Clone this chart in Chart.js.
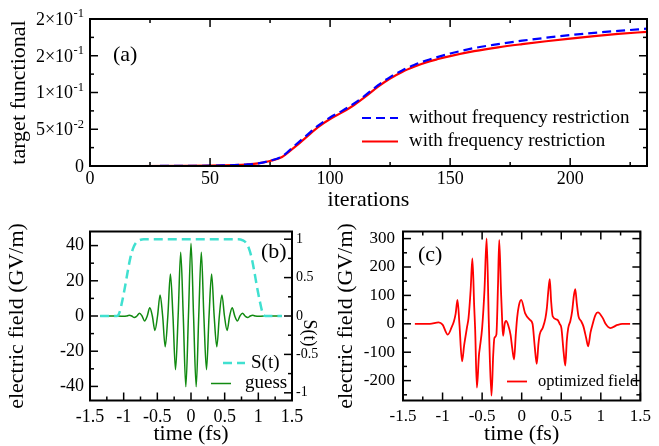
<!DOCTYPE html>
<html>
<head>
<meta charset="utf-8">
<script src="https://cdn.jsdelivr.net/npm/chart.js@4.4.0/dist/chart.umd.min.js"></script>
<style>
  html, body { margin: 0; padding: 0; background: #fff; }
  #page { position: relative; width: 659px; height: 446px; background: #fff; }
  .panel { position: absolute; }
  #boxA { left: 0; top: 0; width: 659px; height: 215px; }
  #boxB { left: 0; top: 215px; width: 330px; height: 231px; }
  #boxC { left: 330px; top: 215px; width: 329px; height: 231px; }
</style>
</head>
<body>
<div id="page">
  <div class="panel" id="boxA"><canvas id="chartA"></canvas></div>
  <div class="panel" id="boxB"><canvas id="chartB"></canvas></div>
  <div class="panel" id="boxC"><canvas id="chartC"></canvas></div>
</div>
<script>
// (a) target functional vs. iterations
const iterations = [0, 20, 40, 50, 55, 60, 65, 70, 75, 80, 85, 90, 95, 100, 105, 110, 115, 120, 125, 130, 135, 140, 145, 150, 160, 170, 180, 190, 200, 210, 220, 232];
const withoutRestriction = [0, 0, 0.0002, 0.0005, 0.0008, 0.0012, 0.002, 0.0036, 0.0072, 0.013, 0.027, 0.041, 0.055, 0.066, 0.075, 0.085, 0.097, 0.110, 0.121, 0.130, 0.1375, 0.1435, 0.1485, 0.153, 0.1605, 0.1658, 0.1705, 0.1745, 0.1781, 0.1812, 0.1838, 0.1868];
const withRestriction = [0, 0, 0.0002, 0.0005, 0.0008, 0.0012, 0.002, 0.0035, 0.0068, 0.0123, 0.025, 0.039, 0.053, 0.064, 0.073, 0.083, 0.095, 0.108, 0.119, 0.128, 0.135, 0.141, 0.1455, 0.1495, 0.1562, 0.1615, 0.1658, 0.1697, 0.1734, 0.1767, 0.1797, 0.1826];
const iterTicks = [0, 50, 100, 150, 200];
const iterMinor = [25, 75, 125, 175, 225];
const targetTicks = [0, 0.05, 0.1, 0.15, 0.2];
const targetTickBase = ['0', '5×10', '1×10', '2×10', '2×10'];
const targetTickExp = ['', '-2', '-1', '-1', '-1'];
const targetMinor = [0.025, 0.075, 0.125, 0.175];

// (b) guess field and shape function S(t)
const guessTime = [-1.35, -1.08, -0.995, -0.957, -0.918, -0.880, -0.842, -0.803, -0.765, -0.727, -0.689, -0.650, -0.612, -0.574, -0.536, -0.497, -0.459, -0.421, -0.383, -0.344, -0.306, -0.268, -0.230, -0.191, -0.153, -0.115, -0.077, -0.038,
  0, 0.038, 0.077, 0.115, 0.153, 0.191, 0.230, 0.268, 0.306, 0.344, 0.383, 0.421, 0.459, 0.497, 0.536, 0.574, 0.612, 0.650, 0.689, 0.727, 0.765, 0.803, 0.842, 0.880, 0.918, 0.957, 0.995, 1.08, 1.35];
const guessField = [0, 0, -0.2, 0, 0.4, 0, -0.9, 0, 1.5, 0, -2.8, 0, 4.7, 0, -8.2, 0, 12.0, 0, -17.5, 0, 23.8, 0, -30.5, 0, 36.2, 0, -40.2, 0,
  41.3, 0, -40.2, 0, 36.2, 0, -30.5, 0, 23.8, 0, -17.5, 0, 12.0, 0, -8.2, 0, 4.7, 0, -2.8, 0, 1.5, 0, -0.9, 0, 0.4, 0, -0.2, 0, 0];
const shapeTime = [-1.35, -1.10, -1.06, -1.02, -0.98, -0.94, -0.90, -0.86, -0.82, -0.77, -0.70, 0, 0.70, 0.77, 0.82, 0.86, 0.90, 0.94, 0.98, 1.02, 1.06, 1.10, 1.35];
const shapeValue = [0, 0, 0.05, 0.2, 0.38, 0.58, 0.76, 0.88, 0.95, 0.985, 1, 1, 1, 0.985, 0.95, 0.88, 0.76, 0.58, 0.38, 0.2, 0.05, 0, 0];

// (c) optimized field
const optTime = [-1.35, -1.16, -1.05, -1.00, -0.934, -0.885, -0.857, -0.835, -0.811, -0.787, -0.754, -0.727, -0.713, -0.690, -0.672, -0.645, -0.623, -0.600, -0.588, -0.566, -0.540, -0.529, -0.500, -0.470, -0.443, -0.415, -0.382, -0.360, -0.345, -0.320, -0.300, -0.284, -0.262, -0.245, -0.235, -0.215, -0.198, -0.170, -0.140, -0.120, -0.096, -0.075, -0.058, -0.035, -0.006,
  0.044, 0.104, 0.137, 0.165, 0.190, 0.212, 0.227, 0.268, 0.300, 0.318, 0.338, 0.355, 0.372, 0.392, 0.453, 0.480, 0.502, 0.530, 0.551, 0.570, 0.588, 0.615, 0.637, 0.660, 0.677, 0.697, 0.718, 0.750, 0.780, 0.815, 0.840, 0.870, 0.900, 0.930, 0.963, 1.025, 1.060, 1.119, 1.21, 1.27, 1.37];
const optField = [0, 0, 5, -3, -38, -12, 8, 35, 84, 0, -132, -75, -50, -10, 20, 120, 230, 60, -20, -225, -110, -85, -15, 120, 301, 0, -253, -110, -50, -38, 130, 295, 120, 0, -42, 0, 10, -5, -40, -85, -126, -40, 20, 65, 84,
  37, 14, 0, -80, -141, -70, -38, -13, 20, 55, 120, 157, 80, 26, 14, 0, -15, -100, -147, -60, -15, 10, 43, 100, 122, 70, 26, 10, -9, -50, -79, -30, 2, 30, 40, 20, 0, -15, -4, 0, 0];

const timeTicks = [-1.5, -1, -0.5, 0, 0.5, 1, 1.5];
const timeTickLabels = ['-1.5', '-1', '-0.5', '0', '0.5', '1', '1.5'];
const timeMinor = [-1.25, -0.75, -0.25, 0.25, 0.75, 1.25];
const guessAxisTicks = [-40, -20, 0, 20, 40];
const guessAxisMinor = [-30, -10, 10, 30];
const shapeTicks = [-1, -0.5, 0, 0.5, 1];
const shapeTickLabels = ['-1', '-0.5', '0', '0.5', '1'];
const shapeMinor = [-0.75, -0.25, 0.25, 0.75];
const optAxisTicks = [-200, -100, 0, 100, 200, 300];
const optAxisMinor = [-250, -150, -50, 50, 150, 250];

const SERIF = '"Liberation Serif", "Times New Roman", serif';
Chart.defaults.font.family = SERIF;
Chart.defaults.color = '#000';

const pts = (xs, ys) => xs.map((x, i) => ({ x, y: ys[i] }));

// inside tick marks, frame box, legend, panel labels and 10^n tick labels (xmgrace look)
const framePlugin = {
    id: 'frame',
    afterDraw(chart, args, opts) {
        const { ctx, chartArea: a, scales } = chart;
        ctx.save();
        ctx.strokeStyle = '#000';
        ctx.lineWidth = 1.5;
        for (const m of opts.marks || []) {
            const s = scales[m.scale];
            for (const [vals, len] of [[m.major, 8], [m.minor, 4]]) {
                for (const v of vals) {
                    const p = s.getPixelForValue(v);
                    for (const side of m.sides) {
                        ctx.beginPath();
                        if (side === 'bottom') { ctx.moveTo(p, a.bottom); ctx.lineTo(p, a.bottom - len); }
                        if (side === 'top') { ctx.moveTo(p, a.top); ctx.lineTo(p, a.top + len); }
                        if (side === 'left') { ctx.moveTo(a.left, p); ctx.lineTo(a.left + len, p); }
                        if (side === 'right') { ctx.moveTo(a.right, p); ctx.lineTo(a.right - len, p); }
                        ctx.stroke();
                    }
                }
            }
        }
        ctx.lineWidth = 2;
        ctx.strokeRect(a.left, a.top, a.right - a.left, a.bottom - a.top);

        for (const l of opts.lines || []) {
            const ds = chart.data.datasets[l.ds];
            ctx.strokeStyle = ds.borderColor;
            ctx.lineWidth = ds.borderWidth;
            ctx.setLineDash(ds.borderDash || []);
            ctx.beginPath();
            ctx.moveTo(l.x1, l.y);
            ctx.lineTo(l.x2, l.y);
            ctx.stroke();
        }
        ctx.setLineDash([]);
        ctx.fillStyle = '#000';
        for (const t of opts.texts || []) {
            ctx.save();
            ctx.font = `${t.size}px ${SERIF}`;
            ctx.textBaseline = 'middle';
            ctx.textAlign = t.align || 'left';
            ctx.translate(t.x, t.y);
            if (t.rotate) ctx.rotate(t.rotate);
            ctx.fillText(t.text, 0, 0);
            ctx.restore();
        }
        const sl = opts.supLabels;
        if (sl) {
            const s = scales[sl.scale];
            ctx.textAlign = 'right';
            ctx.textBaseline = 'alphabetic';
            sl.values.forEach((v, i) => {
                const y = s.getPixelForValue(v) + sl.size * 0.33;
                let x = sl.right;
                if (sl.exp[i]) {
                    ctx.font = `${sl.supSize}px ${SERIF}`;
                    ctx.fillText(sl.exp[i], x, y - sl.size * 0.42);
                    x -= ctx.measureText(sl.exp[i]).width + 0.5;
                }
                ctx.font = `${sl.size}px ${SERIF}`;
                ctx.fillText(sl.base[i], x, y);
            });
        }
        ctx.restore();
    },
};
Chart.register(framePlugin);

function axis(o) {
    return {
        type: 'linear', min: o.min, max: o.max, position: o.position,
        grid: { display: false, drawTicks: false },
        border: { display: false },
        afterBuildTicks: (s) => { s.ticks = o.ticks.map((v) => ({ value: v })); },
        afterFit: (s) => { if (s.isHorizontal()) s.height = o.size; else s.width = o.size; },
        ticks: {
            display: o.labels !== null, autoSkip: false, maxRotation: 0, padding: o.pad, color: '#000',
            font: { size: o.font, lineHeight: 1 },
            callback: (v, i) => (o.labels ? o.labels[i] : ''),
        },
        title: o.title
            ? { display: true, text: o.title, color: '#000', font: { size: o.titleSize, lineHeight: 1 }, padding: o.titlePad }
            : { display: false },
    };
}

const baseOptions = (padding) => ({
    responsive: true,
    maintainAspectRatio: false,
    animation: false,
    layout: { padding },
    elements: { point: { radius: 0 } },
    plugins: { legend: { display: false }, tooltip: { enabled: false } },
});

// (a)
const optsA = baseOptions({ top: 19, right: 12, left: 0, bottom: 0 });
optsA.scales = {
    x: axis({ min: 0, max: 232, ticks: iterTicks, labels: iterTicks.map(String), size: 49, pad: 4, font: 18,
        title: 'iterations', titleSize: 22, titlePad: { bottom: 4 } }),
    // labels with exponents are drawn by the frame plugin
    y: axis({ min: 0, max: 0.2, position: 'left', ticks: targetTicks, labels: null, size: 90, pad: 6, font: 18,
        title: 'target functional', titleSize: 22, titlePad: { top: 8 } }),
};
optsA.plugins.frame = {
    marks: [
        { scale: 'x', major: iterTicks, minor: iterMinor, sides: ['bottom', 'top'] },
        { scale: 'y', major: targetTicks, minor: targetMinor, sides: ['left', 'right'] },
    ],
    supLabels: { scale: 'y', values: targetTicks, base: targetTickBase, exp: targetTickExp, right: 84, size: 18, supSize: 12.5 },
    lines: [
        { ds: 0, x1: 362, x2: 398, y: 118 },
        { ds: 1, x1: 362, x2: 398, y: 141.5 },
    ],
    texts: [
        { text: '(a)', x: 113, y: 55, size: 22 },
        { text: 'without frequency restriction', x: 409, y: 118, size: 19 },
        { text: 'with frequency restriction', x: 409, y: 141.5, size: 19 },
    ],
};
new Chart(document.getElementById('chartA'), {
    type: 'line',
    data: {
        datasets: [
            { label: 'without frequency restriction', data: pts(iterations, withoutRestriction), borderColor: '#0000ff', borderWidth: 2.2, borderDash: [9, 5], cubicInterpolationMode: 'monotone' },
            { label: 'with frequency restriction', data: pts(iterations, withRestriction), borderColor: '#ff0000', borderWidth: 2.2, cubicInterpolationMode: 'monotone' },
        ],
    },
    options: optsA,
});

// (b)
const optsB = baseOptions({ top: 16.5, right: 0, left: 0, bottom: 0 });
optsB.scales = {
    x: axis({ min: -1.5, max: 1.5, ticks: timeTicks, labels: timeTickLabels, size: 45.5, pad: 8, font: 18,
        title: 'time (fs)', titleSize: 22, titlePad: { bottom: 1 } }),
    y: axis({ min: -48, max: 48, position: 'left', ticks: guessAxisTicks, labels: guessAxisTicks.map(String), size: 90, pad: 6, font: 18,
        title: 'electric field (GV/m)', titleSize: 22, titlePad: { top: 6 } }),
    y2: axis({ min: -1.1, max: 1.1, position: 'right', ticks: shapeTicks, labels: shapeTickLabels, size: 38, pad: 4, font: 14 }),
};
optsB.plugins.frame = {
    marks: [
        { scale: 'x', major: timeTicks, minor: timeMinor, sides: ['bottom'] },
        { scale: 'y', major: guessAxisTicks, minor: guessAxisMinor, sides: ['left'] },
        { scale: 'y2', major: shapeTicks, minor: shapeMinor, sides: ['right'] },
    ],
    lines: [
        { ds: 0, x1: 223, x2: 245, y: 148 },
        { ds: 1, x1: 211, x2: 231, y: 168.5 },
    ],
    texts: [
        { text: '(b)', x: 261, y: 37, size: 22 },
        { text: 'S(t)', x: 251, y: 148, size: 19 },
        { text: 'guess', x: 245, y: 168.5, size: 19 },
        { text: 'S(t)', x: 309, y: 118, size: 18, align: 'center', rotate: Math.PI / 2 },
    ],
};
new Chart(document.getElementById('chartB'), {
    type: 'line',
    data: {
        datasets: [
            { label: 'S(t)', data: pts(shapeTime, shapeValue), yAxisID: 'y2', borderColor: '#40e0d0', borderWidth: 2.5, borderDash: [9, 5], cubicInterpolationMode: 'monotone' },
            { label: 'guess', data: pts(guessTime, guessField), yAxisID: 'y', borderColor: '#118a11', borderWidth: 1.5, cubicInterpolationMode: 'monotone' },
        ],
    },
    options: optsB,
});

// (c)
const optsC = baseOptions({ top: 16.5, right: 13, left: 0, bottom: 0 });
optsC.scales = {
    x: axis({ min: -1.5, max: 1.5, ticks: timeTicks, labels: timeTickLabels, size: 45.5, pad: 8, font: 17,
        title: 'time (fs)', titleSize: 22, titlePad: { bottom: 1 } }),
    y: axis({ min: -270, max: 325, position: 'left', ticks: optAxisTicks, labels: optAxisTicks.map(String), size: 73, pad: 8, font: 17,
        title: 'electric field (GV/m)', titleSize: 22, titlePad: { top: 5 } }),
};
optsC.plugins.frame = {
    marks: [
        { scale: 'x', major: timeTicks, minor: timeMinor, sides: ['bottom', 'top'] },
        { scale: 'y', major: optAxisTicks, minor: optAxisMinor, sides: ['left', 'right'] },
    ],
    lines: [
        { ds: 0, x1: 177, x2: 197, y: 166.5 },
    ],
    texts: [
        { text: '(c)', x: 88, y: 40, size: 22 },
        { text: 'optimized field', x: 208, y: 166.5, size: 16.5 },
    ],
};
new Chart(document.getElementById('chartC'), {
    type: 'line',
    data: {
        datasets: [
            { label: 'optimized field', data: pts(optTime, optField), borderColor: '#ff0000', borderWidth: 1.8, cubicInterpolationMode: 'monotone' },
        ],
    },
    options: optsC,
});
</script>
</body>
</html>
